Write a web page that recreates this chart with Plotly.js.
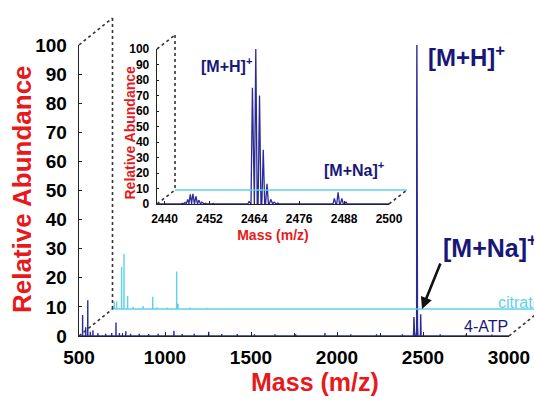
<!DOCTYPE html>
<html><head><meta charset="utf-8">
<script src="https://cdn.plot.ly/plotly-3.0.1.min.js"></script>
<style>html,body{margin:0;padding:0;background:#fff;overflow:hidden}#chart{width:534px;height:403px}</style>
</head><body><div id="chart"></div>
<script>
// ---------------- data ----------------
const mainTickVals  = [500, 1000, 1500, 2000, 2500, 3000];
const abundanceTicks = [0, 10, 20, 30, 40, 50, 60, 70, 80, 90, 100];
const insetTickVals = [2440, 2452, 2464, 2476, 2488, 2500];

// 4-ATP spectrum: peak m/z and relative abundance
const atpMz  = [521, 539, 551, 566, 581, 610, 655, 690, 715, 735, 772, 800, 850, 905, 960,
                1052, 1100, 1170, 1254, 1330, 1420, 1520, 1640, 1760, 1930, 2080, 2230, 2380,
                2444.8, 2445.5, 2446.2, 2446.9, 2447.6, 2448.4, 2449.2, 2450.0, 2451.0, 2453.0,
                2456.0, 2460.0, 2462.6, 2463.5, 2464.4, 2465.4, 2466.4, 2467.4, 2468.4, 2469.3,
                2470.3, 2485.4, 2486.4, 2487.4, 2488.5, 2600, 2750, 2900];
const atpInt = [7.2, 3.0, 12.3, 1.5, 2.0, 1.0, 0.8, 1.0, 4.6, 1.0, 1.6, 0.8, 0.8, 0.7, 0.8,
                1.8, 0.7, 0.8, 1.5, 0.7, 0.7, 0.6, 0.6, 0.6, 1.0, 0.6, 0.6, 0.6,
                0.5, 1.0, 3.0, 6.2, 6.5, 5.0, 2.5, 1.2, 0.5, 0.4,
                0.4, 0.4, 1.5, 75, 100, 70, 35, 13, 3.0, 1.2,
                0.6, 3.6, 7.5, 3.6, 1.2, 0.6, 0.5, 0.5];

// citrate spectrum: peak m/z and relative abundance
const citMz  = [510, 524, 553, 567, 588, 620, 678, 734, 760, 820, 873, 881, 950, 1050];
const citInt = [2.6, 2.6, 14.4, 18.9, 4.5, 0.8, 1.0, 4.2, 0.6, 0.5, 12.9, 1.8, 0.5, 0.4];

// ---------------- layout helpers ----------------
const W = 534, H = 403;
const px = v => v / W;            // page x pixel -> paper
const py = v => 1 - v / H;        // page y pixel -> paper
const PEAK_HW = 0.38;             // drawn half-width of a peak (m/z)

function profile(mz, inten, lo, hi) {
  const xs = [lo], ys = [0];
  mz.forEach((m, i) => { xs.push(m - PEAK_HW, m, m + PEAK_HW); ys.push(0, inten[i], 0); });
  xs.push(hi); ys.push(0);
  return {xs, ys};
}

const FONT = 'Liberation Sans, Arial, Helvetica, sans-serif';
const RED = '#e8191c', NAVY_TXT = '#17177a', NAVY = '#2b2b98', CYAN = '#5fd2e8';

// main plot geometry (page pixels)
const M = {x0: 79, x1: 509, yb: 336, yt: 45};
const OFF = {dx: 33.5, dy: 27};
const PAD = 3;  // units below zero kept visible on offset axes
const mainPxPerUnit = (M.yb - M.yt) / 100;
const mainPxPerMz = (M.x1 - M.x0) / 2500;

// inset geometry
const I = {x0: 157, x1: 389, yb: 204, yt: 49};
const IOFF = {dx: 18, dy: 14};
const insetPxPerUnit = (I.yb - I.yt) / 100;

const atp = profile(atpMz, atpInt, 500, 3000);
const cit = profile(citMz, citInt, 500, 3000);

const lineCommon = {type: 'scatter', mode: 'lines', hoverinfo: 'skip', showlegend: false};
const traces = [
  Object.assign({}, lineCommon, {x: cit.xs, y: cit.ys, xaxis: 'x2', yaxis: 'y2', line: {color: CYAN, width: 1.4}}),
  Object.assign({}, lineCommon, {x: atp.xs, y: atp.ys, xaxis: 'x', yaxis: 'y', line: {color: NAVY, width: 1.4}}),
  Object.assign({}, lineCommon, {x: cit.xs, y: cit.ys, xaxis: 'x4', yaxis: 'y4', line: {color: CYAN, width: 1.4}}),
  Object.assign({}, lineCommon, {x: atp.xs, y: atp.ys, xaxis: 'x3', yaxis: 'y3', line: {color: NAVY, width: 1.3}})
];

const hidden = {visible: false, showgrid: false, zeroline: false, fixedrange: true};
const bigTick = {family: FONT, size: 19, weight: 700, color: '#000'};
const smallTick = {family: FONT, size: 12, weight: 700, color: '#000'};
const axLine = {showline: true, linecolor: '#222', linewidth: 1.3, showgrid: false, zeroline: false,
                ticks: 'inside', tickcolor: '#222', tickwidth: 1};

const citX1 = 500 + (W - (M.x0 + OFF.dx)) / mainPxPerMz;

const dotted = (x0, y0, x1, y1) => ({type: 'line', xref: 'paper', yref: 'paper',
  x0: px(x0), y0: py(y0), x1: px(x1), y1: py(y1), line: {color: '#333', width: 1.6, dash: 'dot'}});

const label = (text, x, y, font, extra) => Object.assign({text, xref: 'paper', yref: 'paper', x: px(x), y: py(y),
  xanchor: 'left', yanchor: 'middle', showarrow: false, font: Object.assign({family: FONT}, font)}, extra || {});

const layout = {
  width: W, height: H,
  margin: {l: 0, r: 0, t: 0, b: 0},
  paper_bgcolor: '#fff', plot_bgcolor: 'rgba(0,0,0,0)',
  showlegend: false,
  font: {family: FONT},
  xaxis: Object.assign({}, axLine, {domain: [px(M.x0), px(M.x1)], range: [500, 3000], anchor: 'y',
    tickmode: 'array', tickvals: mainTickVals, ticklen: 4, tickfont: bigTick, ticklabelstandoff: 4,
    minor: {ticks: 'inside', ticklen: 3, dtick: 250, tickcolor: '#222'}}),
  yaxis: Object.assign({}, axLine, {domain: [py(M.yb), py(M.yt)], range: [0, 100], anchor: 'x',
    tickmode: 'array', tickvals: abundanceTicks, ticklen: 3, tickfont: bigTick, ticklabelstandoff: 7}),
  xaxis2: Object.assign({}, hidden, {domain: [px(M.x0 + OFF.dx), 1], range: [500, citX1], anchor: 'y2'}),
  yaxis2: Object.assign({}, hidden, {domain: [py(M.yb - OFF.dy + PAD * mainPxPerUnit), py(M.yt - OFF.dy)],
    range: [-PAD, 100], anchor: 'x2'}),
  xaxis3: Object.assign({}, axLine, {domain: [px(I.x0), px(I.x1)], range: [2438, 2500], anchor: 'y3',
    tickmode: 'array', tickvals: insetTickVals, ticklen: 3, tickfont: smallTick, ticklabelstandoff: 3,
    title: {text: 'Mass (m/z)', font: {family: FONT, size: 14, weight: 700, color: RED}, standoff: 5}}),
  yaxis3: Object.assign({}, axLine, {domain: [py(I.yb), py(I.yt)], range: [0, 100], anchor: 'x3',
    tickmode: 'array', tickvals: abundanceTicks, ticklen: 2, tickfont: smallTick, ticklabelstandoff: 4}),
  xaxis4: Object.assign({}, hidden, {domain: [px(I.x0 + IOFF.dx), px(I.x1 + IOFF.dx)], range: [2438, 2500], anchor: 'y4'}),
  yaxis4: Object.assign({}, hidden, {domain: [py(I.yb - IOFF.dy + PAD * insetPxPerUnit), py(I.yt - IOFF.dy)],
    range: [-PAD, 100], anchor: 'x4'}),
  shapes: [
    dotted(M.x0, M.yt, M.x0 + OFF.dx, M.yt - OFF.dy),
    dotted(M.x0 + OFF.dx, M.yt - OFF.dy, M.x0 + OFF.dx, M.yb - OFF.dy),
    dotted(M.x0, M.yb, M.x0 + OFF.dx, M.yb - OFF.dy),
    dotted(M.x1, M.yb, M.x1 + OFF.dx, M.yb - OFF.dy),
    dotted(I.x0, I.yt, I.x0 + IOFF.dx, I.yt - IOFF.dy),
    dotted(I.x0 + IOFF.dx, I.yt - IOFF.dy, I.x0 + IOFF.dx, I.yb - IOFF.dy),
    dotted(I.x0, I.yb, I.x0 + IOFF.dx, I.yb - IOFF.dy),
    dotted(I.x1, I.yb, I.x1 + IOFF.dx, I.yb - IOFF.dy)
  ],
  annotations: [
    label('Relative Abundance', 22, 189, {size: 26, weight: 700, color: RED}, {xanchor: 'center', textangle: -90}),
    label('Mass (m/z)', 315, 382, {size: 25, weight: 700, color: RED}, {xanchor: 'center'}),
    label('Relative Abundance', 129.5, 133, {size: 14, weight: 700, color: RED}, {xanchor: 'center', textangle: -90}),
    label('[M+H]<sup>+</sup>', 426, 56, {size: 24, weight: 700, color: NAVY_TXT}),
    label('[M+Na]<sup>+</sup>', 441, 246, {size: 25, weight: 700, color: NAVY_TXT}),
    {text: '', xref: 'paper', yref: 'paper', x: px(422), y: py(309), ax: 19, ay: -47,
     showarrow: true, arrowhead: 2, arrowsize: 0.9, arrowwidth: 2.6, arrowcolor: '#111'},
    label('[M+H]<sup>+</sup>', 199, 65, {size: 16, weight: 700, color: NAVY_TXT}),
    label('[M+Na]<sup>+</sup>', 322, 169, {size: 16, weight: 700, color: NAVY_TXT}),
    label('4-ATP', 462, 326, {size: 16, color: NAVY_TXT}),
    label('citrate', 496, 302, {size: 16, color: CYAN})
  ]
};

Plotly.newPlot('chart', traces, layout, {staticPlot: true, displayModeBar: false});
</script></body></html>
